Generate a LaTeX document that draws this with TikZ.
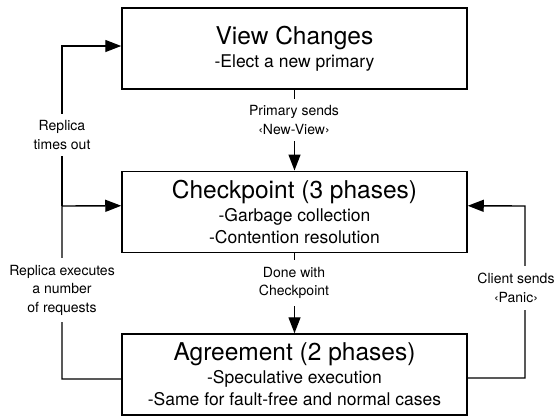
\documentclass[tikz,border=0pt]{standalone}
\usepackage{fontspec}
\setmainfont{TeX Gyre Heros}
\usetikzlibrary{positioning,calc,arrows.meta}

\tikzset{
  stage/.style={draw, line width=1.5pt, minimum width=345pt, minimum height=81pt,
    inner sep=0pt, align=center, font=\fontsize{17.5}{22}\selectfont},
  conn/.style={line width=1.4pt, -{Triangle[length=16pt,width=12pt]}},
  lbl/.style={fill=white, align=center, inner xsep=2pt, inner ysep=7pt,
    font=\fontsize{14}{18.5}\selectfont}
}
\newcommand{\stagetitle}[1]{{\fontsize{24.5}{26}\selectfont #1}}

\begin{document}
\begin{tikzpicture}[x=1pt, y=-1pt]
    \useasboundingbox (0,0) rectangle (556,416);

    % stages
    \node[stage] (vc) at (294.5, 48.5)
      {\stagetitle{View Changes}\\[1pt] -Elect a new primary};
    \node[stage] (chk) at (294.5, 211.75)
      {\stagetitle{Checkpoint (3 phases)}\\[1pt] -Garbage collection\\ -Contention resolution};
    \node[stage] (agr) at (294.5, 374.5)
      {\stagetitle{Agreement (2 phases)}\\[1pt] -Speculative execution\\ -Same for fault-free and normal cases};

    % corners of the loops
    \coordinate (lj) at (62, 206);
    \coordinate (rj) at (525, 206);

    % connectors
    \draw[conn] (vc.south) -- (chk.north);
    \draw[conn] (chk.south) -- (agr.north);
    \draw[conn] ([yshift=-4.5pt]agr.west) -| (lj) -- ([yshift=6pt]chk.west);
    \draw[conn] (lj) |- ([yshift=2.5pt]vc.west);
    \draw[conn] ([yshift=-3.5pt]agr.east) -| (rj) -- ([yshift=6pt]chk.east);

    % labels
    \node[lbl] (newview) at (294, 120) {Primary sends\\‹New-View›};
    \node[lbl] (done) at (294, 283) {Done with\\Checkpoint};
    \node[lbl] (timeout) at (62, 135) {Replica\\times out};
    \node[lbl] (execs) at (62, 290) {Replica executes\\a number\\of requests};
    \node[lbl] (panic) at (516, 288) {Client sends\\‹Panic›};
\end{tikzpicture}
\end{document}
